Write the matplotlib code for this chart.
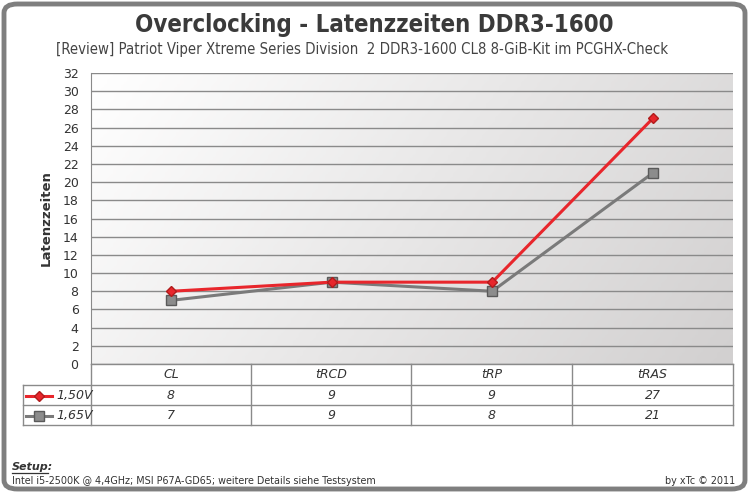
import matplotlib
matplotlib.use("Agg")
import matplotlib.pyplot as plt
import numpy as np
from matplotlib.patches import FancyBboxPatch
from matplotlib.lines import Line2D

categories = ["CL", "tRCD", "tRP", "tRAS"]
series_names = ["1,50V", "1,65V"]
v150 = [8, 9, 9, 27]
v165 = [7, 9, 8, 21]
yticks = list(range(0, 33, 2))

title = "Overclocking - Latenzzeiten DDR3-1600"
subtitle = "[Review] Patriot Viper Xtreme Series Division  2 DDR3-1600 CL8 8-GiB-Kit im PCGHX-Check"

W, H = 749, 493
fig = plt.figure(figsize=(W / 100, H / 100), dpi=100)
fig.patch.set_facecolor("white")

def fx(x):
    return x / W

def fy(y):
    return 1 - y / H

# outer rounded border
border = FancyBboxPatch((fx(4), fy(489)), fx(741), 485 / H,
                        boxstyle="round,pad=0,rounding_size=0.018",
                        transform=fig.transFigure, fill=False,
                        edgecolor="#7f7f7f", linewidth=3.5)
fig.patches.append(border)

fig.text(fx(374), fy(25), title, ha="center", va="center", fontsize=17.2,
         fontweight="bold", color="#3a3a3a", family="DejaVu Sans", fontstretch="condensed")
fig.text(fx(362), fy(49.5), subtitle, ha="center", va="center", fontsize=10.7,
         color="#444444", family="DejaVu Sans", fontstretch="condensed")

L, R, T, B = 91, 733, 73, 364
ax = fig.add_axes([fx(L), fy(B), fx(R - L), (B - T) / H])
ax.set_xlim(-0.5, 3.5)
ax.set_ylim(0, 32)

# gradient background (diagonal: white top-left to gray bottom-right)
gx, gy = np.meshgrid(np.linspace(0, 1, 200), np.linspace(0, 1, 100))
g = 0.75 * gx + 0.25 * gy
cmap = matplotlib.colors.LinearSegmentedColormap.from_list("bg", ["#ffffff", "#d2d0d0"])
ax.imshow(g, extent=(-0.5, 3.5, 0, 32), aspect="auto", cmap=cmap, zorder=0,
          origin="upper", vmin=0, vmax=1)

for yv in yticks:
    ax.axhline(yv, color="#8a8a8a", linewidth=1.0, zorder=1)

x = np.arange(len(categories))
ax.plot(x, v150, color="#e8262c", linewidth=2.2, marker="D", markersize=5.5,
        markerfacecolor="#e8262c", markeredgecolor="#b01c1c", zorder=4)
ax.plot(x, v165, color="#7a7a7a", linewidth=2.2, marker="s", markersize=7,
        markerfacecolor="#8c8c8c", markeredgecolor="#5a5a5a", zorder=3)

ax.set_yticks(yticks)
ax.set_yticklabels([str(t) for t in yticks], fontsize=9, color="#333333")
ax.set_xticks([])
ax.tick_params(axis="y", length=0, pad=9)
for s in ["top", "right", "bottom"]:
    ax.spines[s].set_visible(False)
ax.spines["left"].set_color("#8a8a8a")
ax.set_ylabel("Latenzzeiten", fontsize=9.5, fontweight="bold", color="#333333", labelpad=7)

# data table
tl = 23
col_x = [91, 251, 411, 572, 733]
lc = "#8a8a8a"
def hline(y, x0, x1):
    fig.add_artist(Line2D([fx(x0), fx(x1)], [fy(y), fy(y)], color=lc, linewidth=1.0))
def vline(x, y0, y1):
    fig.add_artist(Line2D([fx(x), fx(x)], [fy(y0), fy(y1)], color=lc, linewidth=1.0))

hline(364, 91, 733)
hline(385, tl, 733)
hline(405, tl, 733)
hline(425, tl, 733)
vline(tl, 385, 425)
for cx in col_x:
    vline(cx, 364, 425)

for i, c in enumerate(categories):
    cx = (col_x[i] + col_x[i + 1]) / 2
    fig.text(fx(cx), fy(375), c, ha="center", va="center", fontsize=9,
             style="italic", color="#333333")
    fig.text(fx(cx), fy(395.5), str(v150[i]), ha="center", va="center", fontsize=9,
             style="italic", color="#333333")
    fig.text(fx(cx), fy(415.5), str(v165[i]), ha="center", va="center", fontsize=9,
             style="italic", color="#333333")

# legend keys in table
fig.add_artist(Line2D([fx(26), fx(52)], [fy(395.5), fy(395.5)], color="#e8262c", linewidth=2.2))
fig.add_artist(Line2D([fx(39)], [fy(395.5)], marker="D", markersize=5.5, color="#e8262c",
                      markeredgecolor="#b01c1c", linestyle="none"))
fig.add_artist(Line2D([fx(26), fx(52)], [fy(415.5), fy(415.5)], color="#7a7a7a", linewidth=2.2))
fig.add_artist(Line2D([fx(39)], [fy(415.5)], marker="s", markersize=6.5, color="#8c8c8c",
                      markeredgecolor="#5a5a5a", linestyle="none"))
fig.text(fx(56), fy(395.5), series_names[0], ha="left", va="center", fontsize=9,
         style="italic", color="#333333")
fig.text(fx(56), fy(415.5), series_names[1], ha="left", va="center", fontsize=9,
         style="italic", color="#333333")

# footer
fig.text(fx(12), fy(467), "Setup:", ha="left", va="center", fontsize=8,
         fontweight="bold", style="italic", color="#333333")
fig.add_artist(Line2D([fx(12), fx(48)], [fy(473), fy(473)], color="#333333", linewidth=0.9))
fig.text(fx(12), fy(481), "Intel i5-2500K @ 4,4GHz; MSI P67A-GD65; weitere Details siehe Testsystem",
         ha="left", va="center", fontsize=6.9, color="#333333")
fig.text(fx(735), fy(481), "by xTc \u00a9 2011", ha="right", va="center", fontsize=6.9,
         color="#333333")

fig.savefig("out.png", dpi=100)
